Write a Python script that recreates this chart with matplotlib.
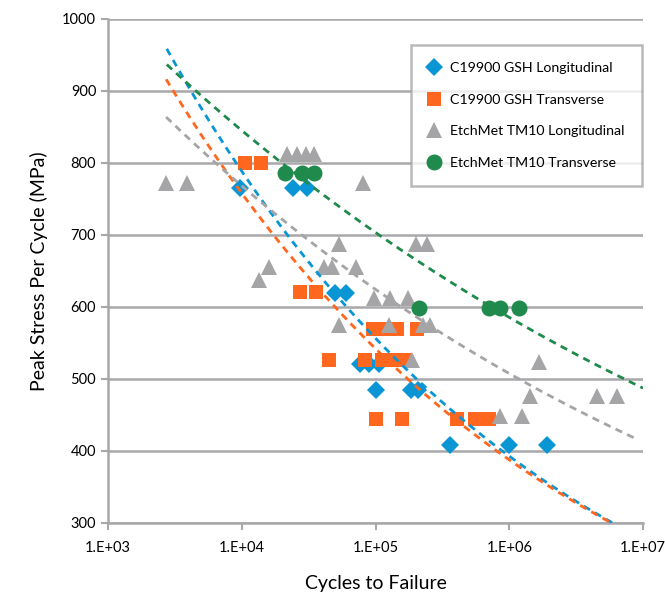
import numpy as np
import matplotlib
matplotlib.use('Agg')
import matplotlib.pyplot as plt

plt.rcParams['font.family'] = ['Lato', 'DejaVu Sans']

# C19900 GSH Longitudinal
gsh_long_n = [9.7e3, 2.4e4, 3.06e4, 5.0e4, 6.0e4, 7.7e4, 8.9e4, 1.07e5,
              1.0e5, 1.85e5, 2.08e5, 3.6e5, 9.9e5, 1.9e6]
gsh_long_s = [765, 765, 765, 620, 620, 521, 521, 521,
              485, 485, 485, 409, 409, 409]

# C19900 GSH Transverse
gsh_tran_n = [1.06e4, 1.39e4, 2.72e4, 3.58e4, 4.48e4, 8.3e4, 1.12e5, 1.41e5, 1.67e5,
              9.5e4, 1.18e5, 1.46e5, 2.05e5, 1.0e5, 1.58e5, 4.08e5, 5.5e5, 7.0e5]
gsh_tran_s = [800, 800, 621, 621, 526, 526, 526, 526, 526,
              570, 570, 570, 570, 445, 445, 445, 445, 445]

# EtchMet TM10 Longitudinal
tm10_long_n = [2.7e3, 3.9e3, 8.1e4, 2.19e4, 2.6e4, 3.0e4, 3.47e4, 1.35e4, 1.6e4,
               4.1e4, 4.75e4, 7.1e4, 5.3e4, 2.0e5, 2.44e5, 9.7e4, 1.29e5, 1.74e5,
               5.3e4, 1.27e5, 2.28e5, 2.57e5, 1.87e5, 1.66e6, 1.44e6, 4.5e6, 6.35e6,
               8.6e5, 1.24e6]
tm10_long_s = [772, 772, 772, 813, 813, 813, 813, 637, 656,
               656, 656, 656, 688, 688, 688, 612, 612, 612,
               575, 575, 575, 575, 526, 524, 476, 476, 476,
               448, 448]

# EtchMet TM10 Transverse
tm10_tran_n = [2.1e4, 2.83e4, 3.46e4, 2.13e5, 7.0e5, 8.6e5, 1.19e6]
tm10_tran_s = [786, 786, 786, 598, 598, 598, 598]

# power trendlines: stress = a * N^b, drawn over [n_start, n_end]
trend_a = [3177, 2898, 1760, 1761]
trend_b = [-0.1513, -0.1456, -0.0900, -0.0797]
trend_start = [2.75e3, 2.72e3, 2.72e3, 2.75e3]
trend_end = [6.0e6, 6.0e6, 8.7e6, 1.0e7]

labels = ['C19900 GSH Longitudinal', 'C19900 GSH Transverse',
          'EtchMet TM10 Longitudinal', 'EtchMet TM10 Transverse']
colors = ['#0A96D4', '#FF671F', '#A5A5A7', '#1F8A4B']
markers = ['D', 's', '^', 'o']
sizes = [9.0, 9.4, 11.5, 11.5]
series = [(gsh_long_n, gsh_long_s), (gsh_tran_n, gsh_tran_s),
          (tm10_long_n, tm10_long_s), (tm10_tran_n, tm10_tran_s)]

grid_c = '#A8A8AA'

fig = plt.figure(figsize=(6.65, 5.94), dpi=100)
ax = fig.add_axes([108 / 665, 71 / 594, 535 / 665, 504 / 594])

for i, (n, s) in enumerate(series):
    ax.plot(n, s, linestyle='none', marker=markers[i], markersize=sizes[i],
            color=colors[i], markeredgewidth=0, label=labels[i], zorder=3)

for i in range(4):
    nn = np.logspace(np.log10(trend_start[i]), np.log10(trend_end[i]), 200)
    ax.plot(nn, trend_a[i] * nn ** trend_b[i], linestyle=(0, (2.6, 2.0)),
            color=colors[i], linewidth=2.0, zorder=4)

ax.set_xscale('log')
ax.set_xlim(1e3, 1e7)
ax.set_ylim(300, 1000)
ax.set_yticks(range(300, 1001, 100))
ax.set_xticks([1e3, 1e4, 1e5, 1e6, 1e7])
ax.set_xticklabels(['1.E+03', '1.E+04', '1.E+05', '1.E+06', '1.E+07'])
ax.minorticks_off()

ax.grid(axis='y', color=grid_c, linewidth=1.8, zorder=0)
ax.set_axisbelow(True)
for side in ['top', 'right']:
    ax.spines[side].set_visible(False)
for side in ['left', 'bottom']:
    ax.spines[side].set_color(grid_c)
    ax.spines[side].set_linewidth(1.8)
ax.tick_params(axis='both', colors=grid_c, labelcolor='black', labelsize=10.5,
               width=1.5, length=5)
ax.tick_params(axis='x', pad=8)

ax.set_xlabel('Cycles to Failure', fontsize=14, labelpad=14)
ax.set_ylabel('Peak Stress Per Cycle (MPa)', fontsize=14, labelpad=10)

leg = ax.legend(loc='upper right', bbox_to_anchor=(0.998, 0.948), frameon=True,
                fancybox=False, edgecolor=grid_c, fontsize=10.2, borderpad=1.2,
                labelspacing=1.38, handlelength=0.9, handletextpad=0.7,
                borderaxespad=0)
leg.get_frame().set_linewidth(1.8)
leg.set_zorder(5)

fig.savefig('out.png', dpi=100)
